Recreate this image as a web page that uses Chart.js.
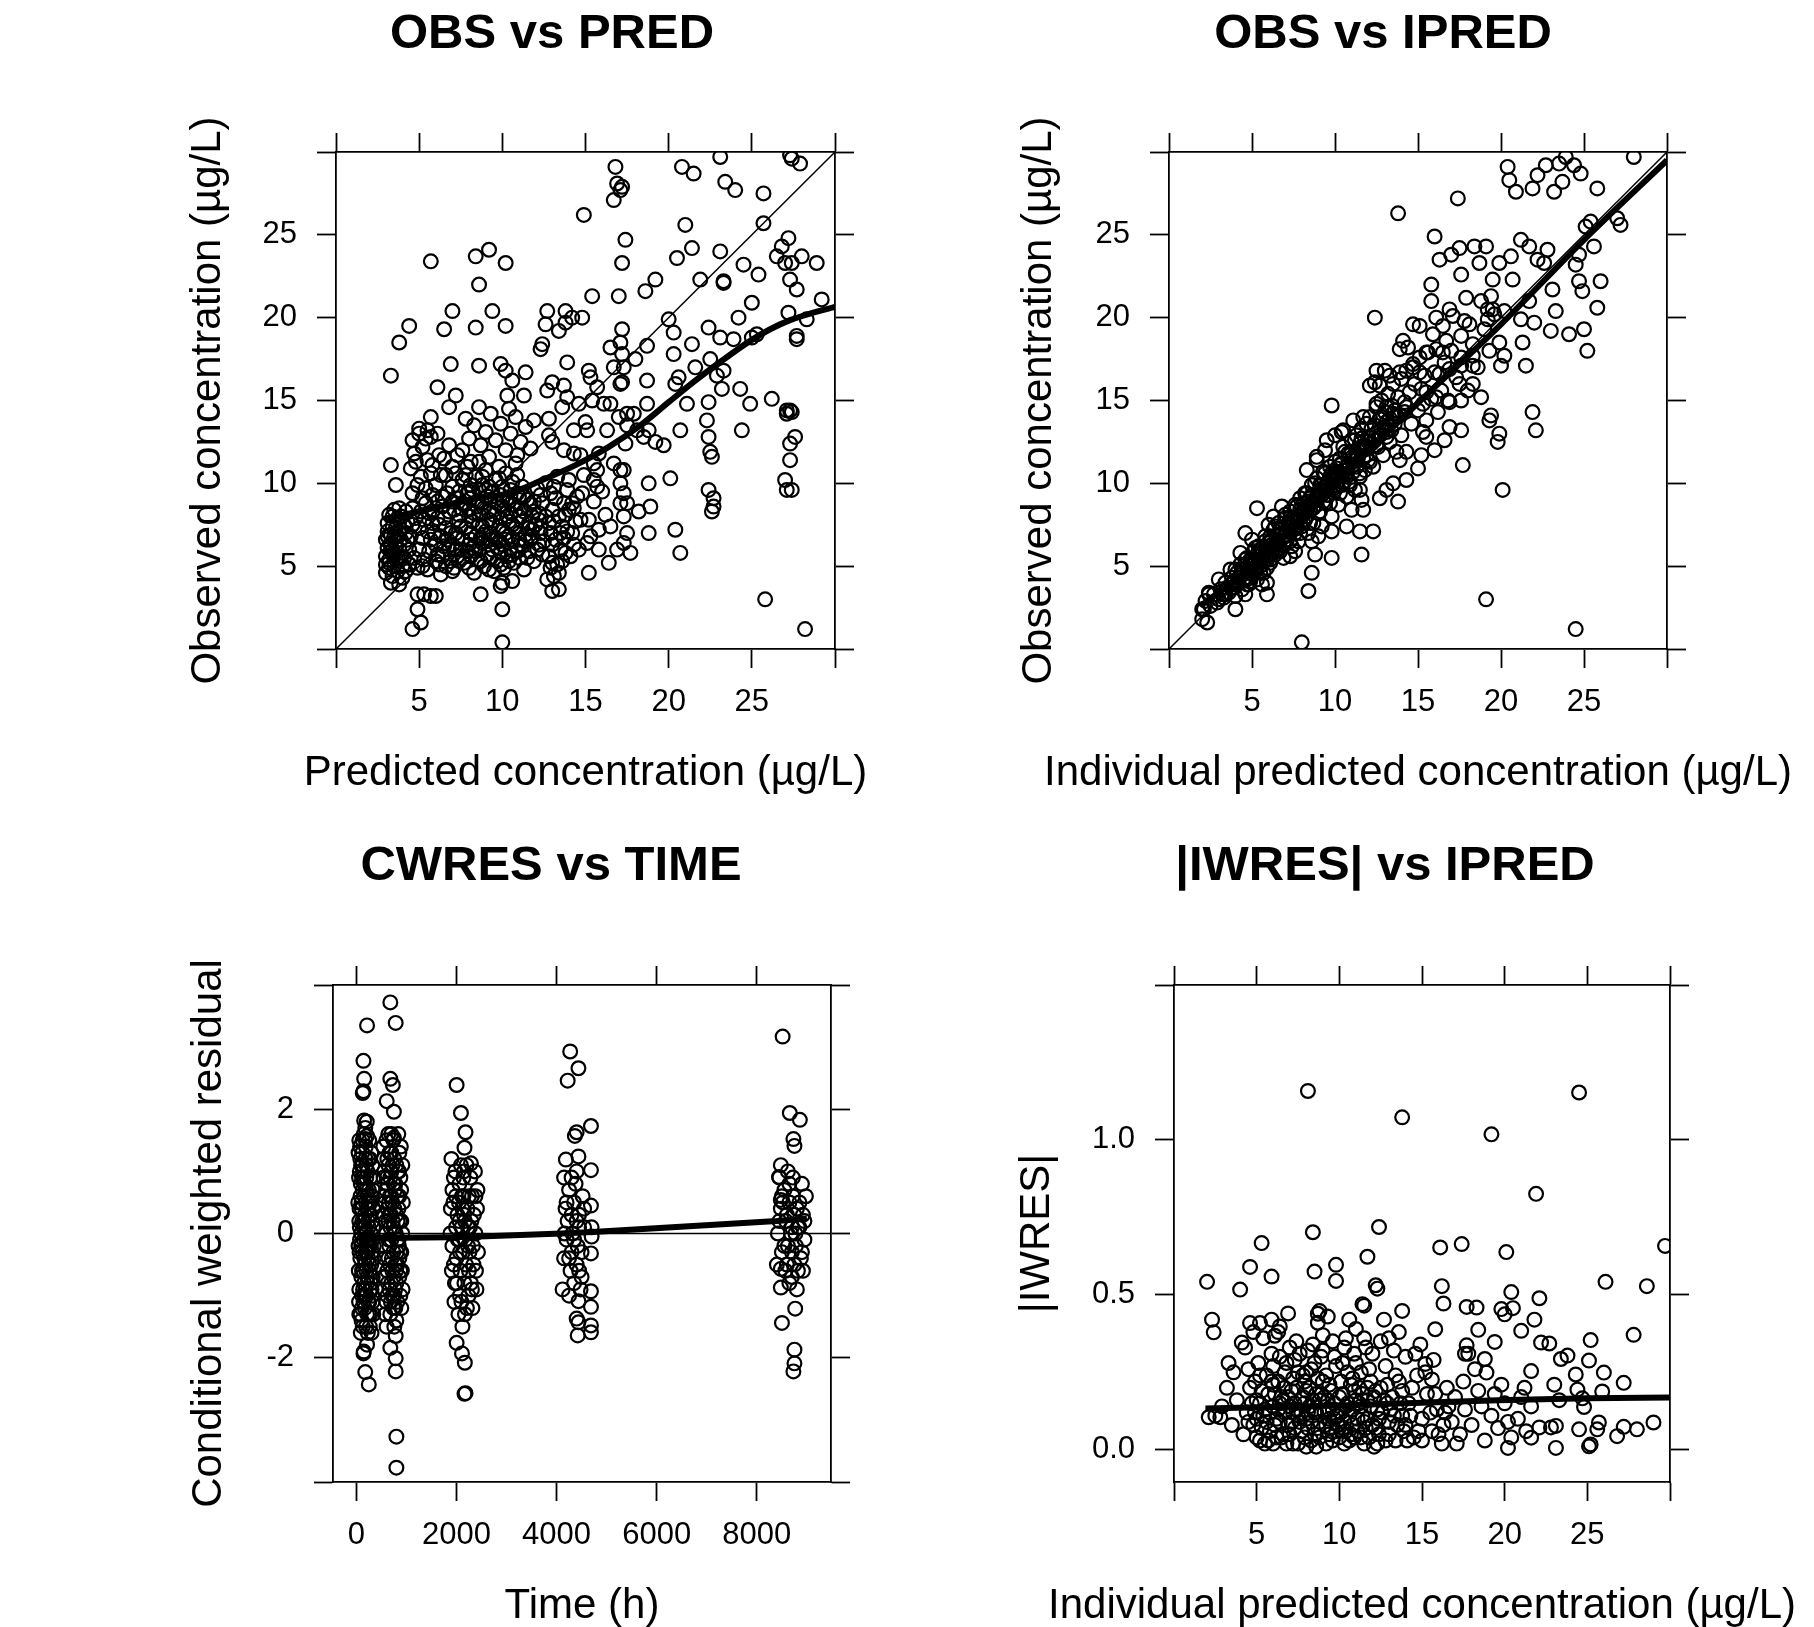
<!DOCTYPE html>
<html>
<head>
<meta charset="utf-8">
<title>Goodness-of-fit plots</title>
<script src="https://cdn.jsdelivr.net/npm/chart.js@4.4.1/dist/chart.umd.min.js"></script>
<style>
  html, body { margin: 0; padding: 0; background: #fff; }
  body { position: relative; width: 1814px; height: 1627px; overflow: hidden; }
  canvas { position: absolute; }
</style>
</head>
<body>
<canvas id="obsPred" width="1104" height="810" style="left:0px;top:0px"></canvas>
<canvas id="obsIpred" width="862" height="810" style="left:952px;top:0px"></canvas>
<canvas id="cwresTime" width="1102" height="817" style="left:0px;top:810px"></canvas>
<canvas id="iwresIpred" width="858" height="817" style="left:956px;top:810px"></canvas>
<script>
const FONT = "'Liberation Sans', Arial, Helvetica, sans-serif";

// axis limits
const concRange = [0, 30];
const timeRange = [-465, 9481];
const cwresRange = [-4, 4];
const iwresRange = [-0.104, 1.5];

// tick values and labels
const concTicks = [0, 5, 10, 15, 20, 25, 30];
const concTickLabels = ['', '5', '10', '15', '20', '25', ''];
const timeTicks = [0, 2000, 4000, 6000, 8000];
const timeTickLabels = ['0', '2000', '4000', '6000', '8000'];
const cwresTicks = [-4, -2, 0, 2, 4];
const cwresTickLabels = ['', '-2', '0', '2', ''];
const iwresTicks = [0, 0.5, 1, 1.5];
const iwresTickLabels = ['0.0', '0.5', '1.0', ''];

// OBS vs PRED  [PRED, OBS]
const obsPredPts = [
  [16.8,29.1],[16.9,28.1],[17.2,27.9],[17.1,27.7],[16.7,27.1],[14.9,26.2],[20.8,29.1],[21.5,28.7],[23.1,29.7],[23.4,28.2],
  [24.0,27.7],[25.7,27.5],[27.3,29.8],[27.4,29.6],[27.9,29.3],[21.0,25.6],[25.7,25.7],[17.4,24.7],[17.2,23.3],[21.4,24.2],
  [20.5,23.6],[23.1,24.0],[24.5,23.2],[25.4,22.6],[27.2,24.8],[26.8,24.3],[26.5,23.7],[27.0,23.3],[27.4,23.3],[28.0,23.7],
  [28.9,23.3],[27.3,22.3],[27.7,21.7],[23.3,22.1],[23.3,22.2],[21.9,22.3],[19.2,22.3],[18.6,21.6],[17.0,21.3],[15.4,21.3],
  [25.0,20.9],[29.2,21.1],[27.2,20.3],[28.3,19.9],[27.7,18.9],[27.7,18.7],[24.2,20.0],[22.4,19.4],[20.0,19.9],[20.3,19.1],
  [23.1,18.8],[23.9,18.7],[25.0,18.8],[25.3,19.0],[21.4,18.4],[20.3,17.8],[22.5,17.5],[23.3,16.8],[22.9,16.5],[21.6,17.0],
  [20.6,16.4],[20.4,16.0],[23.2,15.7],[24.3,15.7],[24.9,14.8],[26.2,15.1],[22.4,14.9],[21.1,14.8],[22.3,13.8],[20.7,13.2],
  [24.4,13.2],[22.4,12.8],[22.5,11.9],[22.6,11.6],[27.1,14.4],[27.3,14.4],[27.4,14.3],[27.1,14.2],[27.6,12.8],[27.3,12.4],
  [27.3,11.4],[27.0,10.2],[27.1,9.6],[27.4,9.6],[22.4,9.6],[22.7,9.1],[22.7,8.6],[22.6,8.3],[20.1,10.3],[20.4,7.2],
  [20.7,5.8],[18.8,10.0],[18.9,8.6],[18.8,7.0],[25.8,3.0],[28.2,1.2],
  [5.7,23.4],[8.4,23.7],[9.2,24.1],[10.2,23.3],[8.6,22.0],[4.4,19.5],[3.8,18.5],[7.0,20.4],[6.5,19.3],[8.4,19.4],
  [9.4,20.4],[10.2,19.5],[3.3,16.5],[6.9,17.2],[8.6,17.1],[6.1,15.8],[7.2,15.3],[6.8,14.6],[5.7,14.0],
  [12.7,20.4],[12.6,19.6],[13.8,20.4],[13.8,19.7],[13.4,19.2],[14.8,20.0],[14.2,20.0],[12.4,18.4],[12.3,18.1],[13.9,17.3],
  [17.2,19.3],[17.1,18.5],[16.5,18.2],[17.2,17.8],[16.7,17.0],[17.3,17.0],[17.2,16.1],[17.1,16.0],[18.7,18.3],[18.0,17.5],
  [18.7,16.2],[18.7,14.8],[15.2,16.8],[15.3,16.4],[15.7,15.8],[15.4,15.0],[16.1,14.8],[16.5,14.8],
  [9.9,17.2],[10.2,16.8],[10.6,16.2],[11.4,16.7],[10.3,15.3],[11.3,15.3],
  [13.0,16.1],[12.7,15.6],[13.7,15.9],[13.9,15.2],[13.6,14.6],[14.6,14.8],[15.0,13.7],
  [17.5,14.2],[17.9,14.2],[17.0,14.0],[17.5,13.5],[18.1,13.2],[18.8,13.2],[18.5,12.8],[19.2,12.5],[19.7,12.3],[17.4,12.4],
  [16.3,13.2],[15.1,13.2],[14.3,13.2],[12.8,13.9],[12.8,12.9],[13.0,12.5],[13.7,12.0],[14.3,11.8],[14.7,11.7],[15.8,11.8],
  [15.5,11.2],[16.7,11.2],[17.1,10.8],[17.3,10.8],[15.7,10.8],[15.5,10.2],[15.7,9.8],[17.1,10.0],[17.3,9.4],[17.5,8.8],
  [17.1,8.8],[18.2,8.3],[17.3,8.0],[17.5,7.0],[17.3,6.4],[17.7,5.8],[15.2,4.6],[15.8,7.2],[15.1,6.4],[15.3,6.8],
  [14.8,9.4],[14.7,7.8],[15.2,7.8],
  [4.9,3.3],[5.3,3.3],[5.7,3.2],[6.0,3.2],[4.9,2.4],[5.1,1.6],[4.6,1.2],[3.8,3.9],[8.7,3.3],[10.0,2.4],
  [10.0,0.4],[9.9,3.8],[10.0,4.0],[10.6,4.1],[13.0,3.5],[13.4,3.6],[13.1,4.4],
  [3.0,4.6],[3.0,5.1],[3.0,5.6],[3.1,6.1],[3.0,6.6],[3.1,7.1],[3.1,7.6],[3.2,8.1],[3.2,4.9],[3.2,5.4],
  [3.3,5.9],[3.3,6.4],[3.3,6.9],[3.4,7.4],[3.4,4.4],[3.5,5.0],[3.5,5.7],[3.6,6.2],[3.5,6.8],[3.6,7.3],
  [3.7,7.9],[3.7,4.7],[3.8,5.3],[3.8,6.0],[3.9,6.6],[3.9,7.2],[4.0,4.3],[4.0,5.0],[4.1,5.5],[4.1,6.3],
  [4.2,7.0],[4.3,7.7],[4.2,8.3],[4.4,5.1],[4.4,6.0],[3.5,8.4],[3.8,8.5],[3.3,4.0],[4.5,6.8],[4.6,7.5],
  [3.3,11.1],[3.6,9.9],[4.4,5.1],
  [3.2,5.2],[3.4,5.7],[3.6,6.5],[3.8,7.0],[3.1,6.8],[3.9,5.6],[4.1,7.4],[3.4,8.0],
  [3.6,5.4],[3.3,6.2],[3.7,6.8],[3.9,8.0],[4.2,4.7],[4.3,6.6],
  [4.6,12.6],[5.0,13.0],[5.4,12.7],[5.7,12.8],[6.1,13.0],[4.7,11.8],[5.2,12.2],[4.8,11.3],[5.5,11.4],[5.8,11.1],
  [4.5,10.9],[5.7,10.6],[5.1,10.4],[4.9,9.9],[5.4,9.7],[6.0,9.9],[6.3,10.5],[6.2,11.7],[4.6,9.4],[5.2,9.1],
  [5.8,9.3],[6.4,9.2],[5.0,13.3],[5.5,13.2],[6.5,11.5],[6.8,12.3],[6.6,10.5],[7.0,11.0],
  [4.6,8.5],[4.8,7.9],[5.0,7.3],[5.2,6.7],[5.0,6.0],[5.3,5.4],[5.5,4.8],[5.6,8.2],[5.8,7.6],[5.9,7.0],
  [6.0,6.3],[6.1,5.7],[6.2,5.1],[6.4,8.6],[6.5,7.9],[6.6,7.3],[6.7,6.6],[6.8,6.0],[6.9,5.3],[7.0,4.7],
  [4.7,5.5],[4.9,4.9],[5.4,8.8],[6.3,4.5],[5.1,8.3],[6.1,8.9],
  [6.6,5.0],[6.4,5.6],[6.3,6.8],[6.2,7.5],[6.8,8.3],[5.7,6.6],[5.5,7.1],[5.3,7.8],
  [5.8,8.3],[6.1,7.9],[6.0,5.3],[5.6,5.9],[5.2,5.0],
  [7.1,4.9],[7.3,5.6],[7.0,6.3],[7.2,7.0],[7.4,7.7],[7.1,8.4],[7.3,9.1],[7.0,9.8],[7.2,10.6],
  [7.7,5.2],[7.9,5.9],[7.6,6.6],[7.8,7.3],[8.0,8.0],[7.7,8.7],[7.9,9.4],[7.6,10.2],[7.9,11.0],
  [8.3,4.6],[8.5,5.4],[8.2,6.1],[8.4,6.8],[8.6,7.5],[8.3,8.2],[8.5,8.9],[8.2,9.6],[8.4,10.4],[8.6,11.3],
  [8.9,5.0],[9.1,5.7],[8.8,6.4],[9.0,7.1],[9.2,7.8],[8.9,8.5],[9.1,9.2],[8.8,9.9],[9.0,10.8],
  [9.5,4.7],[9.7,5.3],[9.4,6.0],[9.6,6.7],[9.8,7.4],[9.5,8.1],[9.7,8.8],[9.4,9.5],[9.6,10.2],[9.8,11.0],
  [10.1,4.9],[10.3,5.6],[10.0,6.3],[10.2,7.0],[10.4,7.7],[10.1,8.4],[10.3,9.1],[10.0,9.8],[10.2,10.6],
  [10.7,5.2],[10.9,5.9],[10.6,6.6],[10.8,7.3],[11.0,8.0],[10.7,8.7],[10.9,9.4],[10.6,10.1],[10.8,11.2],
  [11.3,4.8],[11.5,5.5],[11.2,6.2],[11.4,6.9],[11.6,7.6],[11.3,8.3],[11.5,9.0],[11.2,9.8],
  [11.9,5.3],[12.1,6.0],[11.8,6.8],[12.0,7.5],[12.2,8.2],[11.9,8.9],[12.1,9.7],
  [12.4,5.7],[12.5,6.5],[12.3,7.3],[12.6,8.0],[12.4,8.8],
  [7.4,5.3],[7.5,6.0],[7.3,6.7],[7.5,7.4],[7.4,8.1],[7.6,8.8],[7.4,9.5],
  [8.0,4.9],[8.1,5.6],[8.0,6.3],[8.1,7.0],[8.2,7.7],[8.0,8.4],[8.1,9.1],[8.1,9.9],
  [8.7,5.3],[8.6,6.0],[8.7,6.7],[8.8,7.4],[8.6,8.1],[8.8,8.8],[8.6,9.6],
  [9.2,4.8],[9.3,5.5],[9.2,6.3],[9.3,7.0],[9.4,7.6],[9.2,8.3],[9.3,9.0],[9.2,9.8],
  [9.9,5.1],[9.9,5.8],[9.8,6.5],[10.0,7.2],[9.9,7.9],[10.0,8.6],[9.9,9.3],
  [10.4,5.3],[10.5,6.0],[10.4,6.8],[10.6,7.5],[10.5,8.2],[10.4,8.9],[10.5,9.6],
  [11.0,5.5],[11.1,6.3],[11.0,7.0],[11.2,7.7],[11.1,8.5],[11.0,9.2],
  [11.6,5.9],[11.7,6.6],[11.6,7.3],[11.8,8.0],[11.7,8.7],
  [12.2,6.3],[12.3,7.0],[12.2,7.8],
  [6.5,6.2],[6.9,7.0],[7.2,6.0],[7.6,5.5],[8.1,6.6],[8.4,5.9],[8.9,6.9],[9.3,6.6],[9.7,6.1],[10.2,6.6],
  [10.6,5.7],[11.0,6.6],[11.4,6.5],[11.8,7.2],[7.0,8.9],[7.5,8.5],[8.0,9.5],[8.5,8.6],[9.0,9.6],[9.5,8.4],
  [10.0,9.0],[10.3,8.0],[10.8,8.4],[11.3,9.2],[11.9,8.3],[12.3,9.3],[6.7,9.4],[7.8,10.5],[8.8,10.4],[9.8,10.3],
  [10.9,10.5],
  [7.6,12.0],[8.0,12.7],[8.3,13.5],[7.8,13.9],[8.7,12.3],[9.0,13.1],[9.3,14.2],[9.6,12.6],[9.9,13.6],[10.2,12.0],
  [10.5,13.0],[10.8,14.0],[11.1,12.5],[11.4,13.4],[11.7,12.1],[8.6,14.6],[10.4,14.5],[9.2,11.6],[10.9,11.7],[7.3,11.7],
  [11.9,13.8],[8.1,11.3],
  [12.7,4.2],[12.9,4.9],[12.8,5.6],[13.0,6.3],[12.9,7.0],[13.1,7.7],[13.0,8.4],[13.2,9.1],[13.1,9.8],[13.4,4.6],
  [13.6,5.3],[13.5,6.0],[13.7,6.7],[13.6,7.4],[13.8,8.1],[13.7,8.8],[13.9,9.6],[14.1,5.6],[14.3,6.3],[14.2,7.0],
  [14.4,7.7],[14.3,8.5],[14.5,9.2],[13.3,10.4],[14.0,10.2],[12.6,10.0],[14.6,6.0],
  [13.3,5.1],[13.2,6.6],[13.4,8.0],[13.9,7.1],[14.0,8.4],
  [13.5,7.0],[13.0,5.2],[12.8,7.6],[13.8,5.8],[14.2,8.8],[12.9,9.4],
  [15.5,8.9],[16.0,9.5],[16.2,8.1],[15.8,6.0],[16.5,7.4],[16.9,6.0],[16.4,5.2],[14.9,10.5]
];
const predSmoothX = [2.9, 4.5, 6.3, 8.4, 10.4, 12.4, 14.4, 16.4, 18.3, 20.0, 21.6, 23.2, 24.9, 26.1, 27.3, 28.5, 30.0];
const predSmoothY = [7.8, 8.2, 8.6, 9.1, 9.4, 10.2, 11.1, 12.2, 13.5, 14.9, 16.2, 17.4, 18.6, 19.3, 19.85, 20.25, 20.65];

// OBS vs IPRED  [IPRED, OBS]
const obsIpredPts = [
  [20.4,29.1],[20.5,28.3],[20.9,27.6],[21.9,27.8],[22.2,28.6],[22.7,29.2],[23.5,29.3],[23.9,29.7],[24.4,29.2],[24.8,28.7],
  [23.7,28.2],[23.2,27.6],[25.8,27.8],[28.0,29.7],[17.4,27.2],[13.8,26.3],[25.1,25.5],[25.4,25.8],[27.0,26.0],[27.2,25.6],
  [16.0,24.9],[21.2,24.7],[21.7,24.3],[22.8,24.1],[25.6,24.3],[24.7,23.8],[24.5,23.2],[22.2,23.5],[22.6,23.3],
  [17.5,24.2],[17.0,23.8],[16.3,23.5],[18.4,24.3],[19.1,24.3],[18.7,23.3],[19.9,23.3],[20.6,23.7],[17.6,22.6],[19.5,22.3],
  [20.7,22.3],[15.8,22.0],[23.1,21.7],[24.7,22.2],[26.0,22.2],[24.9,21.6],[17.9,21.2],[19.4,21.3],[15.8,21.0],[25.8,20.6],
  [23.3,20.4],[21.7,21.0],[19.2,20.5],[19.5,20.5],[20.2,20.4],[16.9,20.5],[12.4,20.0],[14.7,19.6],[15.1,19.5],[16.1,20.0],
  [17.1,20.1],[18.1,19.6],[19.2,19.9],[21.2,19.9],[22.0,19.7],[23.0,19.2],[24.1,19.0],[25.0,19.3],[25.2,18.0],[21.3,18.5],
  [21.5,17.1],[19.9,18.5],[20.2,17.7],[20.0,17.1],[17.6,18.9],[16.7,18.6],[13.9,18.1],[14.1,18.6],[15.5,17.9],[16.5,17.9],
  [18.3,17.7],[12.5,16.8],[13.3,16.5],[13.9,16.7],[14.7,17.0],[15.1,16.7],[12.1,15.9],[12.7,15.9],[16.3,16.6],[16.9,16.9],
  [17.6,17.1],[18.3,17.1],[17.5,16.0],[18.3,16.0],[18.8,15.2],[15.5,15.5],[16.1,15.2],[16.9,14.9],[17.6,15.0],[15.3,14.8],
  [9.8,14.7],[12.5,14.8],[13.1,14.6],[13.5,14.2],[14.3,14.6],[21.9,14.3],[22.1,13.2],[19.4,14.1],[19.3,13.8],[19.9,13.0],
  [19.8,12.5],[16.9,13.4],[17.6,13.2],[16.6,12.6],[15.3,13.1],[15.5,12.8],[16.0,12.0],[15.2,11.7],[15.0,10.9],[17.7,11.1],
  [20.1,9.6],[13.9,11.4],[14.3,11.9],[13.5,10.0],[14.3,10.2],[13.1,9.6],[13.8,8.9],[12.7,9.1],[11.5,9.6],[11.7,8.4],
  [12.3,7.1],[11.5,7.1],[11.6,5.7],[9.8,5.5],[10.7,7.4],[8.6,4.6],[8.4,3.5],[8.8,5.7],[5.9,3.3],[5.9,4.0],
  [4.0,2.4],[8.0,0.4],[19.1,3.0],[24.5,1.2],[2.1,2.4],[2.0,1.8],[2.3,1.6],[2.4,3.3],[3.8,3.7],[4.7,3.9],
  [5.3,8.5],[4.6,7.0],[8.9,11.6],[9.5,12.6],[10.5,13.2],[11.1,13.8],[11.7,14.0],
  [2.0,2.4],[2.2,2.9],[2.5,2.6],[2.7,3.3],[2.9,2.8],[3.1,3.6],[3.3,3.1],[3.4,4.0],[3.6,3.4],[3.8,4.3],
  [3.9,3.7],[2.4,3.4],[3.0,4.2],[3.7,4.8],[4.0,3.2],
  [4.1,4.6],[4.2,4.0],[4.3,5.1],[4.4,3.6],[4.5,4.8],[4.6,4.3],[4.7,5.5],[4.8,3.9],[4.9,5.0],[5.0,4.5],
  [5.1,5.9],[5.2,5.3],[5.3,4.2],[5.4,6.2],[5.5,5.0],[5.6,5.7],[5.7,4.6],[5.8,6.5],[5.9,5.4],[6.0,6.0],
  [4.3,5.8],[5.0,6.6],[5.6,3.9],[4.6,3.3],[5.9,4.9],
  [6.1,6.8],[6.1,5.2],[6.2,6.3],[6.3,7.2],[6.4,5.7],[6.5,6.6],[6.6,7.6],[6.7,6.1],[6.8,7.0],[6.9,5.5],
  [7.0,7.9],[7.1,6.6],[7.2,7.3],[7.3,8.3],[7.4,6.2],[7.5,7.7],[7.6,7.0],[7.7,8.6],[7.8,6.5],[7.9,8.1],
  [8.0,7.4],[6.3,8.0],[6.8,8.6],[7.3,5.6],[7.9,9.1],[6.0,7.5],[7.6,5.9],
  [8.1,8.8],[8.2,7.8],[8.3,9.4],[8.4,7.0],[8.5,8.4],[8.6,9.9],[8.7,7.6],[8.8,9.0],[8.9,10.3],[9.0,8.2],
  [9.1,9.6],[9.2,7.4],[9.3,10.7],[9.4,8.8],[9.5,10.0],[9.6,9.3],[9.7,11.0],[9.8,8.0],[9.9,10.4],[10.0,9.6],
  [8.3,10.8],[8.9,11.4],[9.4,12.0],[9.0,6.8],[9.8,7.1],[8.6,6.5],
  [10.1,10.9],[10.2,8.7],[10.3,11.5],[10.4,9.9],[10.5,12.2],[10.6,10.5],[10.7,9.2],[10.8,11.8],[10.9,10.1],[11.0,12.6],
  [11.1,11.1],[11.2,9.6],[11.3,12.9],[11.4,11.6],[11.5,10.4],[11.6,13.3],[11.7,12.0],[11.8,10.8],[11.9,13.6],[12.0,11.4],
  [10.4,13.1],[11.0,8.4],[11.6,9.0],[12.0,12.5],[10.0,12.9],
  [12.1,14.0],[12.2,12.8],[12.3,11.0],[12.4,13.5],[12.5,14.6],[12.6,12.2],[12.7,13.9],[12.8,15.0],[12.9,11.7],[13.0,14.3],
  [13.1,13.1],[13.2,15.4],[13.3,12.5],[13.4,14.7],[13.5,16.0],[13.6,13.6],[13.7,11.9],[13.8,15.2],[13.9,14.1],[14.0,16.3],
  [12.4,16.1],[13.0,16.8],[14.0,12.9],
  [14.2,14.9],[14.3,16.8],[14.5,15.5],[14.6,13.6],[14.7,17.2],[14.8,16.0],[15.0,14.4],[15.1,17.6],[15.2,15.7],[15.4,16.5],
  [15.5,13.8],[15.6,17.9],[15.8,15.1],[16.0,16.7],[16.1,18.1],[16.2,14.3],[14.4,18.2],[15.9,19.0],
  [16.4,15.6],[16.6,17.3],[16.8,15.0],[17.0,18.0],[17.3,16.4],[17.6,17.6],[18.0,15.6],[18.3,18.4],[18.6,17.0],[19.0,19.3],
  [19.3,18.0],[19.6,20.2],[16.5,19.5],[17.8,19.8],[18.8,21.0],
  [4.4,4.5],[4.7,4.9],[5.1,5.1],[5.4,5.6],[5.7,5.3],[6.0,6.4],[6.3,6.1],[6.6,6.9],[6.9,6.4],[7.2,7.6],
  [7.5,7.2],[7.8,8.0],[8.1,7.6],[8.4,8.9],[8.7,8.5],[9.0,9.4],[9.3,8.9],[9.6,10.1],[9.9,9.7],[10.2,10.5],
  [10.5,10.0],[10.8,11.2],[11.1,10.7],[11.4,12.1],[11.7,11.5],[12.0,12.8],[4.9,5.4],[5.5,6.0],[6.1,6.5],[6.7,7.3],
  [7.3,7.9],[7.9,8.4],[8.5,9.1],[9.1,9.9],[9.7,10.4],[10.3,11.1],[10.9,11.7],[11.5,12.4],[6.4,5.9],[7.0,6.8],
  [7.6,7.4],[8.2,8.2],[8.8,8.7],[9.4,9.6],[10.0,10.2],[10.6,10.8],[11.2,11.4],[11.8,12.3],[5.2,4.7],[5.8,5.8],
  [12.4,12.6],[13.0,13.4],[13.6,14.4],[14.2,14.3],[12.7,12.9],[13.3,13.9],
  [3.2,3.3],[3.5,3.7],[3.9,4.1],[4.2,4.3],[4.5,4.2],[4.8,4.6],[5.1,4.8],[5.3,5.7],[5.6,5.4],[5.9,6.1],
  [6.2,5.8],[6.5,6.3],[6.8,6.7],[7.1,7.1],[7.4,7.4],[7.7,7.7],[8.0,8.2],[8.3,8.5],[8.6,8.8],[8.9,9.2],
  [9.2,9.3],[9.5,9.8],[9.8,10.0],[10.1,10.3],[10.4,10.6],[10.7,11.0],[11.0,11.4],[11.3,11.8],[11.6,12.2],[11.9,12.1],
  [12.2,12.4],[12.5,13.0],[12.8,13.3],[13.1,13.7],[13.4,13.2],[13.7,14.1],
  [4.0,4.8],[4.6,5.4],[5.2,6.1],[5.8,6.8],[6.4,7.4],[7.0,8.1],[7.6,8.7],[8.2,9.4],[8.8,10.0],[9.4,10.6],
  [10.0,11.3],[10.6,11.9],[11.2,12.6],
  [4.9,4.1],[5.5,4.6],[6.1,5.4],[6.7,5.9],[7.3,6.5],[7.9,7.0],[8.5,7.6],[9.1,8.3],[9.7,8.8],[10.3,9.4],
  [10.9,9.9],[11.5,10.6],[12.1,11.3],
  [3.0,3.0],[3.4,3.3],[3.8,3.9],[4.1,3.9],[4.4,4.8],[4.7,4.2],[5.0,5.2],[5.3,4.9],[5.6,6.0],[5.9,5.7],
  [6.2,6.6],[6.5,5.9],[6.8,7.2],[7.1,6.9],[7.4,7.8],[7.7,7.3],[8.0,8.6],[8.3,8.0],[8.6,9.3],[8.9,8.7],
  [9.2,9.9],[9.5,9.3],[9.8,10.6],[10.1,9.9],[10.4,11.2],[10.7,10.4],[11.0,11.9],[11.3,11.0],[11.6,12.7],[11.9,11.7],
  [12.2,13.3],[12.5,12.3],[12.8,14.0],[13.1,12.8]
];
const ipredSmoothX = [1.9, 5, 10, 15, 20, 25, 30];
const ipredSmoothY = [2.6, 5.0, 10.0, 14.85, 19.6, 24.7, 29.5];

// CWRES vs TIME  [TIME, CWRES]
const cwresTimePts = [
  [60,1.5],[120,1.3],[200,1.1],[280,0.9],[90,0.8],[160,0.6],[240,0.4],[320,0.2],[70,0.1],[150,-0.1],
  [220,-0.3],[300,-0.5],[100,-0.7],[180,-0.9],[260,-1.1],[340,-1.3],[130,-1.5],[210,-0.2],[80,-0.4],[250,0.7],
  [190,1.4],[110,-1.2],[290,-0.8],[40,0.5],[230,-1.6],[170,0.3],[350,0.9],[60,-0.9],[140,1.0],[270,-0.1],
  [200,-0.6],[120,0.2],[320,-1.0],[90,-1.6],[240,1.2],[150,-1.9],[180,1.7],[60,-1.3],[300,0.6],[210,0.0],
  [70,1.0],[130,0.7],[190,0.5],[250,0.1],[310,-0.3],[100,-0.2],[160,-0.4],[220,-0.8],[280,-1.3],[340,0.4],
  [80,1.2],[140,-0.6],[200,0.9],[260,1.5],[320,1.1],[110,0.4],[170,-1.2],[230,0.6],[290,0.3],[50,-0.6],
  [350,-0.2],[120,-1.0],[180,0.0],[240,-0.4],[300,1.3],[60,0.2],[210,1.8],[150,1.6],[270,-1.5],[330,-0.7],
  [45,1.3],[95,1.1],[145,0.9],[195,0.7],[245,0.5],[295,0.0],[345,-0.4],[75,-0.1],[125,-0.3],[175,-0.5],
  [225,-0.7],[275,-0.9],[325,-1.1],[55,-1.1],[105,-1.4],[155,-0.8],[205,-1.0],[255,-1.3],[305,-1.6],[85,0.6],
  [135,0.1],[185,1.2],[235,0.2],[285,0.5],[335,0.7],[65,0.4],[115,0.9],[165,0.8],[215,0.4],[265,-0.6],
  [195,-1.5],[145,-1.1],[95,0.0],[245,-0.2],[125,1.5],
  [55,0.9],[105,0.5],[155,0.2],[205,-0.1],[255,-0.5],[305,-0.9],[65,-0.3],[115,-0.6],[165,-1.0],[215,-1.3],
  [265,0.3],[315,0.6],[75,1.4],[125,1.1],[175,0.1],[225,1.0],[275,1.2],[85,-1.3],[135,-0.9],[185,-0.3],
  [235,-1.1],[285,-0.2],[335,0.1],[45,-0.2],
  [215,3.35],[143,2.78],[157,2.49],[143,2.29],[129,2.26],[157,1.82],[215,1.57],[179,1.52],[143,-1.93],[215,-1.79],
  [179,-2.23],[250,-2.43],
  [540,1.4],[620,1.2],[700,1.0],[780,0.8],[860,0.6],[580,0.5],[660,0.3],[740,0.1],[820,-0.1],[900,-0.3],
  [560,-0.2],[640,-0.4],[720,-0.6],[800,-0.8],[880,-1.0],[600,-1.1],[680,-1.3],[760,-1.5],[840,0.4],[920,1.1],
  [700,-0.1],[620,0.8],[780,-1.2],[860,1.3],[540,-0.7],[700,0.6],[820,-0.5],[600,0.0],[740,1.5],[660,-0.9],
  [900,0.2],[560,1.0],[800,0.3],[720,-1.0],[640,1.6],[880,-0.6],
  [560,0.6],[620,-0.6],[680,0.9],[740,-0.3],[800,1.1],[860,-0.7],[920,0.0],[580,-1.3],[640,0.2],[700,1.3],
  [760,0.4],[820,-1.1],[880,0.9],[600,1.5],[660,-0.2],[720,0.5],[780,-0.5],[840,1.6],[900,-1.2],[540,0.3],
  [700,-0.8],[760,-1.0],[820,0.6],[640,1.1],
  [550,1.2],[610,0.9],[670,0.6],[730,0.2],[790,0.0],[850,-0.2],[910,-0.6],[570,-0.4],[630,-0.8],[690,-1.1],
  [750,-0.7],[810,-0.3],[870,0.2],[930,0.5],[590,0.2],[650,0.5],[710,-0.4],[770,0.7],[830,1.0],[890,1.4],
  [680,0.1],[740,-1.2],[800,-1.4],[620,-1.0],[560,-0.9],[860,-0.4],[760,1.2],[700,1.6],
  [545,0.9],[595,0.7],[645,-0.1],[695,0.3],[745,0.8],[795,-0.6],[845,-0.1],[895,0.7],[575,-0.7],[625,0.4],
  [675,-0.5],[725,1.1],[775,-0.9],[825,0.2],[875,-0.3],[925,-0.9],[665,1.3],[765,0.0],[605,-1.5],[855,1.0],
  [680,3.72],[787,3.39],[680,2.49],[730,2.39],[608,2.13],[751,1.96],[751,1.54],[787,-1.65],[680,-1.84],[787,-2.01],
  [787,-2.22],[801,-3.27],[801,-3.77],
  [1900,1.2],[1980,1.0],[2060,0.8],[2140,0.6],[2220,0.4],[2300,0.2],[2380,0.0],[1920,-0.2],[2000,-0.4],[2080,-0.6],
  [2160,-0.8],[2240,-1.0],[2320,-1.2],[1940,0.5],[2020,0.3],[2100,0.1],[2180,-0.1],[2260,-0.3],[2340,-0.5],[1960,-1.1],
  [2040,-1.3],[2120,-1.5],[2200,1.1],[2280,0.9],[2420,0.7],[2400,-0.9],[1880,0.0],[2060,-0.1],[2150,0.3],[2250,-0.6],
  [1920,0.7],[2010,-0.8],[2090,1.1],[2170,0.2],[2250,0.6],[2330,-0.2],[2410,0.4],[1950,-0.5],[2050,0.5],[2130,-0.3],
  [2210,-1.2],[2290,-0.8],[2370,1.0],[2100,-1.1],[1990,0.1],
  [1890,0.4],[1950,0.9],[2030,-0.1],[2110,0.6],[2190,-0.5],[2270,0.1],[2350,0.3],[2430,-0.3],[1970,-0.8],[2070,-1.0],
  [2150,1.0],[2230,-0.2],[2310,0.6],[2390,-0.6],[2120,0.4],[2060,0.2],
  [1910,-0.6],[1990,0.6],[2070,-0.3],[2140,0.9],[2230,0.1],[2310,-0.9],[2380,0.6],[2170,-1.3],
  [2004,2.39],[2090,1.94],[2182,1.63],[2161,1.38],[2290,1.13],[2004,-1.76],[2111,-1.93],[2168,-2.08],[2182,-2.57],[2161,-2.58],
  [4150,0.9],[4250,0.7],[4350,0.5],[4450,0.3],[4550,0.1],[4200,-0.1],[4300,-0.3],[4400,-0.5],[4500,-0.7],[4120,-0.9],
  [4220,0.2],[4320,0.0],[4420,-0.2],[4520,0.6],[4180,0.4],[4280,-0.6],[4380,0.8],[4480,-0.9],[4400,1.0],[4250,-1.0],
  [4350,-0.8],[4150,-0.4],[4450,0.1],[4700,0.1],[4700,-0.05],
  [4200,0.5],[4300,0.3],[4400,0.2],[4500,-0.3],[4250,-0.4],[4350,-0.1],[4450,-0.6],[4300,0.9],[4160,0.0],[4550,0.4],
  [4272,2.93],[4437,2.66],[4222,2.46],[4687,1.73],[4401,1.63],[4365,1.57],[4186,1.19],[4437,1.24],[4687,1.02],[4687,0.45],
  [4687,-0.32],[4687,-0.93],[4437,-1.09],[4687,-1.18],[4401,-1.37],[4437,-1.43],[4687,-1.48],[4687,-1.59],[4422,-1.64],
  [8450,0.9],[8550,0.7],[8650,0.5],[8750,0.3],[8850,0.1],[8950,-0.1],[8500,-0.3],[8600,-0.5],[8700,-0.7],[8800,-0.9],
  [8900,0.8],[8480,0.4],[8580,0.2],[8680,0.0],[8780,-0.2],[8880,-0.4],[8980,0.6],[8620,1.0],[8720,0.6],[8820,-0.6],
  [8400,-0.5],[8920,0.3],[8700,-0.3],
  [8450,0.2],[8550,-0.2],[8650,0.8],[8750,-0.5],[8850,0.5],[8950,0.2],[8600,0.3],[8700,0.1],[8800,0.4],[8900,-0.3],
  [8500,0.6],[8650,-0.8],
  [8420,0.0],[8520,0.5],[8620,-0.2],[8720,0.9],[8820,0.1],[8920,-0.6],[8770,0.0],[8570,-0.6],
  [8515,3.17],[8658,1.94],[8859,1.83],[8730,1.52],[8751,1.41],[8479,1.1],[8443,0.91],[8479,0.54],[8501,-1.44],[8766,-1.21],
  [8751,-1.87],[8751,-2.09],[8730,-2.22],[8479,-0.87],[8479,-0.57]
];
const timeSmoothX = [50, 900, 1900, 2450, 4100, 4800, 8400, 9000];
const timeSmoothY = [-0.06, -0.07, -0.06, -0.05, 0.0, 0.03, 0.2, 0.24];

// |IWRES| vs IPRED  [IPRED, |IWRES|]
const iwresIpredPts = [
  [8.1,1.158],[13.8,1.073],[19.2,1.018],[24.5,1.153],[21.9,0.826],[29.7,0.658],[8.4,0.702],[12.4,0.719],[5.3,0.667],[16.1,0.653],
  [17.4,0.664],[20.1,0.638],[2.0,0.542],[4.6,0.590],[5.9,0.559],[4.0,0.517],[8.5,0.575],[9.8,0.597],[9.8,0.545],[11.7,0.623],
  [12.2,0.531],[12.3,0.520],[16.2,0.528],[20.4,0.509],[22.1,0.489],[26.1,0.542],[28.6,0.528],[27.8,0.371],[2.3,0.42],[2.4,0.379],
  [4.1,0.346],[4.6,0.409],[5.2,0.409],[5.9,0.42],[6.4,0.398],[6.1,0.368],[8.8,0.448],[8.7,0.439],[11.5,0.465],[11.4,0.47],
  [13.8,0.448],[16.3,0.472],[17.7,0.461],[18.3,0.459],[19.8,0.454],[20.0,0.437],[20.5,0.457],[21.8,0.42],[21.0,0.384],[15.8,0.389],
  [18.4,0.387],[19.4,0.348],[22.2,0.346],[22.7,0.343],[25.2,0.354],[25.1,0.288],[26.0,0.249],[27.2,0.216],[23.4,0.293],[23.8,0.304],
  [24.3,0.243],[21.6,0.254],[23.0,0.21],[18.8,0.293],[18.9,0.249],[17.7,0.337],[17.6,0.31],[15.2,0.277],[15.6,0.227],[29.0,0.088],
  [28.0,0.066],[27.2,0.074],[26.8,0.044],[25.7,0.088],[25.6,0.066],[25.2,0.017],[25.1,0.011],[24.5,0.066],[24.8,0.138],[24.7,0.166],
  [23.1,0.006],[22.8,0.072],[23.1,0.077],[21.6,0.039],[22.1,0.072],[20.2,0.006],[21.6,0.14],[21.2,0.2],[23.3,0.16],[25.9,0.188],
  [24.4,0.194],[2.1,0.105],[2.8,0.105],
  [4.2,0.05],[4.4,0.12],[4.6,0.20],[4.8,0.08],[5.0,0.16],[5.2,0.03],[5.4,0.11],[5.6,0.24],[5.8,0.06],[6.0,0.14],
  [4.5,0.26],[5.1,0.28],[5.7,0.18],[4.9,0.22],[5.3,0.07],[6.0,0.02],
  [6.2,0.10],[6.3,0.22],[6.5,0.04],[6.6,0.16],[6.8,0.28],[6.9,0.08],[7.1,0.19],[7.2,0.02],[7.4,0.13],[7.5,0.25],
  [7.7,0.06],[7.8,0.17],[8.0,0.10],[6.4,0.30],[7.0,0.33],[7.6,0.31],[6.7,0.12],[7.3,0.07],[7.9,0.22],[8.0,0.01],
  [8.2,0.14],[8.3,0.26],[8.5,0.05],[8.6,0.18],[8.8,0.09],[8.9,0.30],[9.1,0.12],[9.2,0.02],[9.4,0.21],[9.5,0.07],
  [9.7,0.15],[9.8,0.27],[10.0,0.04],[8.4,0.34],[9.0,0.37],[9.6,0.35],[8.7,0.23],[9.3,0.16],[9.9,0.11],[8.1,0.07],
  [10.2,0.18],[10.3,0.09],[10.5,0.25],[10.6,0.03],[10.8,0.13],[10.9,0.31],[11.1,0.06],[11.2,0.20],[11.4,0.11],[11.5,0.02],
  [11.7,0.16],[11.8,0.26],[12.0,0.08],[10.4,0.36],[11.0,0.39],[11.6,0.33],[10.7,0.21],[11.3,0.14],
  [12.2,0.19],[12.4,0.05],[12.6,0.12],[12.8,0.27],[13.0,0.09],[13.2,0.17],[13.4,0.03],[13.6,0.22],[13.8,0.11],[14.0,0.30],
  [12.5,0.35],[13.3,0.32],[13.9,0.06],[12.1,0.01],
  [14.2,0.15],[14.5,0.04],[14.7,0.24],[15.0,0.10],[15.3,0.18],[15.6,0.06],[15.9,0.13],[16.2,0.02],[16.5,0.20],[16.8,0.09],
  [14.9,0.34],[15.7,0.29],[16.4,0.12],[17.0,0.17],
  [17.3,0.05],[17.6,0.13],[18.0,0.08],[18.4,0.19],[18.8,0.03],[19.2,0.11],[19.6,0.07],[20.0,0.15],[20.4,0.04],[20.8,0.10],
  [21.3,0.06],[18.2,0.26],[19.8,0.21],[17.8,0.31],
  [2.9,0.14],[3.2,0.20],[3.5,0.08],[3.8,0.16],[3.6,0.25],[3.3,0.28],[2.5,0.11],
  [5.5,0.13],[6.1,0.18],[6.6,0.05],[7.0,0.14],[7.5,0.02],[7.9,0.15],[8.3,0.03],[8.8,0.16],[9.2,0.24],[9.6,0.03],
  [10.1,0.12],[10.4,0.06],[10.9,0.19],[11.3,0.04],[11.7,0.10],[6.4,0.09],[7.2,0.23],[8.0,0.19],[8.6,0.12],[9.4,0.10],
  [10.2,0.28],[10.8,0.08],[11.9,0.22],[12.3,0.13],[12.9,0.21],[13.5,0.08],[14.1,0.03],[5.9,0.31],[7.4,0.35],[8.7,0.41],
  [6.9,0.44],[5.4,0.36],[12.7,0.42],[13.6,0.38],[14.6,0.31],
  [4.7,0.15],[5.0,0.04],[5.3,0.19],[5.6,0.09],[5.9,0.22],[6.2,0.04],[6.5,0.17],[6.8,0.02],[7.1,0.09],[7.4,0.20],
  [7.7,0.12],[8.0,0.25],[8.3,0.09],[8.6,0.01],[8.9,0.18],[9.2,0.08],[9.5,0.19],[9.8,0.06],[10.1,0.22],[10.4,0.14],
  [10.7,0.05],[11.0,0.16],[11.3,0.25],[11.6,0.07],[11.9,0.14],[12.2,0.07],[12.5,0.20],[12.8,0.03],[13.1,0.13],[13.4,0.24],
  [13.7,0.15],[14.0,0.08],[14.4,0.20],[14.8,0.06],[15.2,0.25],[15.5,0.12],[16.0,0.05],[16.6,0.14],[17.1,0.02],[17.5,0.22],
  [18.6,0.14],[19.4,0.18],[20.2,0.09],[21.0,0.17],
  [5.2,0.24],[6.0,0.27],[6.7,0.25],[7.3,0.29],[8.1,0.32],[8.5,0.28],[9.0,0.32],[9.7,0.30],[10.3,0.33],[11.0,0.28],
  [11.5,0.36],[12.0,0.31],[4.3,0.33],[4.8,0.38],[6.3,0.38],[9.3,0.43],[10.6,0.42],[13.0,0.36],
  [4.5,0.09],[4.9,0.12],[5.2,0.15],[5.5,0.02],[5.8,0.12],[6.1,0.08],[6.4,0.15],[6.7,0.20],[7.0,0.05],[7.3,0.15],
  [7.6,0.09],[7.9,0.04],[8.2,0.20],[8.5,0.12],[8.8,0.04],[9.1,0.17],[9.4,0.05],[9.7,0.10],[10.0,0.17],[10.3,0.02],
  [10.6,0.11],[10.9,0.04],[11.2,0.15],[11.5,0.09],[11.8,0.04],[12.1,0.17],[12.4,0.10],[12.7,0.16],[13.0,0.05],[13.3,0.11],
  [5.0,0.10],[5.7,0.03],[6.3,0.13],[6.9,0.17],[7.5,0.11],[8.1,0.12],[8.7,0.07],[9.3,0.13],[9.9,0.08],[10.5,0.15],
  [11.1,0.10],[11.7,0.20],[12.3,0.02],[12.9,0.15],[6.0,0.21],[7.8,0.24],[9.0,0.22],[10.8,0.23],[8.4,0.16],[7.2,0.12],
  [9.6,0.13],[10.2,0.07],[11.4,0.18],[14.3,0.11],[15.0,0.03],[15.8,0.18],[16.3,0.08],[13.8,0.19]
];
const iwresSmoothX = [1.9, 6, 11.5, 15, 19.6, 25, 30];
const iwresSmoothY = [0.133, 0.138, 0.145, 0.152, 0.160, 0.166, 0.169];

function toXY(pairs) {
  return pairs.map(p => ({ x: p[0], y: p[1] }));
}

function zipXY(xs, ys) {
  return xs.map((x, i) => ({ x: x, y: ys[i] }));
}

// x-axis caption drawn centred under the plot box, without the width cap of scale titles
const xCaption = {
  id: 'xCaption',
  afterDraw(chart, args, opts) {
    const { ctx, chartArea } = chart;
    ctx.save();
    ctx.font = opts.size + 'px ' + FONT;
    ctx.fillStyle = '#000';
    ctx.textAlign = 'center';
    ctx.textBaseline = 'middle';
    ctx.fillText(opts.text, (chartArea.left + chartArea.right) / 2, opts.y);
    ctx.restore();
  }
};

function tickAxis(o) {
  const horizontal = o.position === 'top' || o.position === 'bottom';
  const axis = {
    type: 'linear',
    position: o.position,
    min: o.range[0],
    max: o.range[1],
    afterBuildTicks: (s) => { s.ticks = o.ticks.map(v => ({ value: v })); },
    afterFit: (s) => { if (horizontal) s.height = o.size; else s.width = o.size; },
    grid: {
      display: true,
      drawOnChartArea: false,
      drawTicks: true,
      tickLength: 19,
      tickWidth: 1.8,
      tickColor: '#000'
    },
    border: { display: true, color: '#000', width: 1.8 },
    ticks: {
      display: !!o.labels,
      autoSkip: false,
      maxRotation: 0,
      minRotation: 0,
      padding: horizontal ? 16 : 20,
      color: '#000',
      font: { family: FONT, size: 31 },
      callback: (v, i) => (o.labels ? o.labels[i] : '')
    },
    title: { display: false }
  };
  if (o.title) {
    axis.title = {
      display: true,
      text: o.title,
      color: '#000',
      font: { family: FONT, size: o.titleSize, lineHeight: 1 },
      padding: { top: o.titlePad, bottom: 0 }
    };
  }
  return axis;
}

function drawPanel(id, p) {
  const datasets = [{
    type: 'line',
    data: zipXY(p.smoothX, p.smoothY),
    borderColor: '#000',
    borderWidth: 6,
    pointRadius: 0,
    fill: false,
    cubicInterpolationMode: p.curved ? 'monotone' : 'default',
    tension: 0
  }];
  if (p.refLine) {
    datasets.push({
      type: 'line',
      data: p.refLine,
      borderColor: '#000',
      borderWidth: 1.5,
      pointRadius: 0,
      fill: false,
      tension: 0
    });
  }
  datasets.push({
    type: 'scatter',
    data: toXY(p.points),
    pointRadius: 6.9,
    pointBorderWidth: 2.2,
    pointBackgroundColor: 'rgba(0,0,0,0)',
    pointBorderColor: '#000',
    showLine: false
  });

  new Chart(document.getElementById(id), {
    type: 'scatter',
    data: { datasets: datasets },
    plugins: [xCaption],
    options: {
      responsive: false,
      animation: false,
      events: [],
      devicePixelRatio: 1,
      layout: { padding: 0 },
      plugins: {
        legend: { display: false },
        tooltip: { enabled: false },
        title: {
          display: true,
          text: p.title,
          color: '#000',
          font: { family: FONT, size: 49, weight: 'bold', lineHeight: 1.2 },
          padding: { top: p.titleTop, bottom: 0 }
        },
        xCaption: { text: p.xTitle, size: 42, y: p.xTitleY }
      },
      scales: {
        x: tickAxis({ position: 'bottom', range: p.xRange, ticks: p.xTicks, labels: p.xLabels, size: p.bottom }),
        xTop: tickAxis({ position: 'top', range: p.xRange, ticks: p.xTicks, size: p.top }),
        y: tickAxis({ position: 'left', range: p.yRange, ticks: p.yTicks, labels: p.yLabels,
                      size: p.left, title: p.yTitle, titleSize: 42, titlePad: p.yTitlePad }),
        yRight: tickAxis({ position: 'right', range: p.yRange, ticks: p.yTicks, size: p.right })
      }
    }
  });
}

const TITLE_LINE = 49 * 1.2;

drawPanel('obsPred', {
  title: 'OBS vs PRED', titleTop: 5.3,
  points: obsPredPts, smoothX: predSmoothX, smoothY: predSmoothY, curved: true,
  refLine: [{ x: concRange[0], y: concRange[0] }, { x: concRange[1], y: concRange[1] }],
  xRange: concRange, yRange: concRange, xTicks: concTicks, xLabels: concTickLabels, yTicks: concTicks, yLabels: concTickLabels,
  xTitle: 'Predicted concentration (µg/L)', yTitle: 'Observed concentration (µg/L)', xTitleY: 773,
  left: 336, right: 269, top: 152 - 5.3 - TITLE_LINE, bottom: 161, yTitlePad: 187
});

drawPanel('obsIpred', {
  title: 'OBS vs IPRED', titleTop: 5.3,
  points: obsIpredPts, smoothX: ipredSmoothX, smoothY: ipredSmoothY, curved: true,
  refLine: [{ x: concRange[0], y: concRange[0] }, { x: concRange[1], y: concRange[1] }],
  xRange: concRange, yRange: concRange, xTicks: concTicks, xLabels: concTickLabels, yTicks: concTicks, yLabels: concTickLabels,
  xTitle: 'Individual predicted concentration (µg/L)', yTitle: 'Observed concentration (µg/L)', xTitleY: 773,
  left: 217, right: 147, top: 152 - 5.3 - TITLE_LINE, bottom: 161, yTitlePad: 66
});

drawPanel('cwresTime', {
  title: 'CWRES vs TIME', titleTop: 26.6,
  points: cwresTimePts, smoothX: timeSmoothX, smoothY: timeSmoothY, curved: false,
  refLine: [{ x: timeRange[0], y: 0 }, { x: timeRange[1], y: 0 }],
  xRange: timeRange, yRange: cwresRange, xTicks: timeTicks, xLabels: timeTickLabels, yTicks: cwresTicks, yLabels: cwresTickLabels,
  xTitle: 'Time (h)', yTitle: 'Conditional weighted residual', xTitleY: 796.6,
  left: 333, right: 271, top: 175 - 26.6 - TITLE_LINE, bottom: 145, yTitlePad: 188
});

drawPanel('iwresIpred', {
  title: '|IWRES| vs IPRED', titleTop: 26.6,
  points: iwresIpredPts, smoothX: iwresSmoothX, smoothY: iwresSmoothY, curved: true,
  refLine: null,
  xRange: concRange, yRange: iwresRange, xTicks: concTicks, xLabels: concTickLabels, yTicks: iwresTicks, yLabels: iwresTickLabels,
  xTitle: 'Individual predicted concentration (µg/L)', yTitle: '|IWRES|', xTitleY: 796.6,
  left: 218, right: 144, top: 175 - 26.6 - TITLE_LINE, bottom: 145, yTitlePad: 60
});
</script>
</body>
</html>
